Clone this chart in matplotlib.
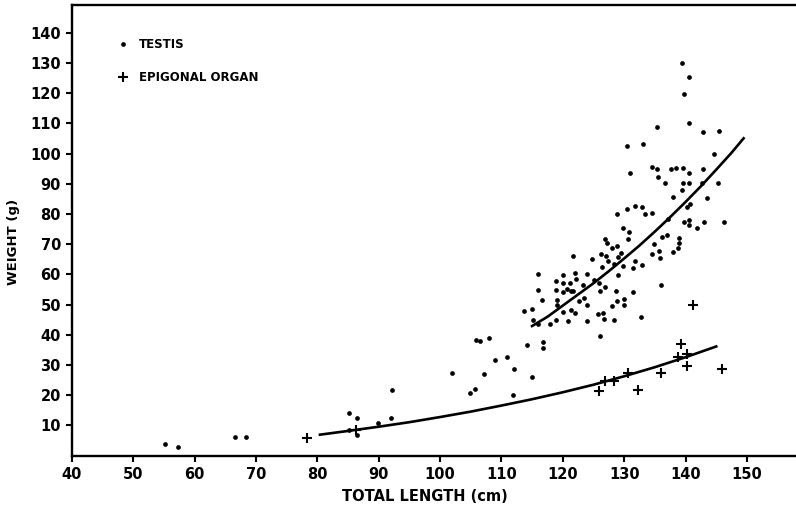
import matplotlib
matplotlib.use('Agg')
from matplotlib import pyplot as plt

# testis weight (g) against total length (cm)
testis_length = [
    55.1, 57.2, 66.6, 68.4, 85.1, 86.4, 85.1, 86.4, 89.9, 92.1, 92.0,
    101.9, 104.9, 105.7, 105.9, 106.5, 108.0, 107.2, 109.0, 110.9, 112.1,
    111.8, 115.0, 114.2, 116.7, 116.7, 113.7, 115.0, 115.2, 116.0, 116.0,
    116.0, 116.6, 117.9, 118.9, 118.9, 118.9, 119.0, 119.0, 120.0, 120.0,
    120.0, 120.1, 120.9, 120.6, 121.2, 121.3, 121.7, 121.6, 122.0, 122.2,
    121.4, 121.9, 122.6,
    139.4, 140.5, 139.7, 140.6, 135.3, 142.9, 145.4, 130.5, 133.1, 144.6,
    134.6, 135.4, 137.7, 138.5, 139.6, 142.9, 130.9, 140.5, 135.5, 136.6,
    139.6, 140.6, 142.7, 145.3, 139.4, 137.9, 143.5, 140.8, 140.3, 128.8,
    130.4, 131.7, 132.9, 133.4, 134.5, 137.1, 139.7, 140.6, 140.5, 143.0,
    141.8, 146.3, 129.8,
    130.8, 126.9, 127.2, 128.0, 128.9, 130.7, 136.1, 136.9, 139.0, 138.9,
    138.7, 137.9, 134.9, 134.6, 135.7, 135.9, 124.8, 126.2, 127.1, 127.3,
    126.4, 128.4, 129.0, 129.5, 129.8, 129.0, 131.7, 132.9, 131.5, 124.0,
    125.0, 123.3, 125.9, 126.9, 126.0, 128.7, 131.4, 136.0, 123.5, 123.9,
    128.9, 128.0, 130.0, 130.0, 125.7, 126.6, 126.7, 124.0, 128.3, 132.8,
    126.1,
]
testis_weight = [
    3.9, 2.8, 6.2, 6.3, 14.1, 12.4, 8.5, 6.9, 10.7, 21.8, 12.6,
    27.5, 20.6, 22.0, 38.2, 38.0, 38.9, 26.9, 31.7, 32.6, 28.8,
    20.0, 26.0, 36.5, 37.8, 35.8, 47.9, 48.7, 44.9, 43.6, 60.1,
    54.9, 51.5, 43.5, 44.9, 57.9, 54.9, 51.5, 49.9, 57.1, 59.8,
    54.3, 47.7, 44.7, 55.1, 57.1, 54.6, 54.6, 66.1, 60.4, 58.4,
    48.2, 47.4, 51.2,
    129.9, 125.2, 119.9, 110.2, 108.8, 107.0, 107.6, 102.5, 103.1, 100.0,
    95.5, 95.0, 95.0, 95.2, 95.2, 95.0, 93.5, 93.5, 92.4, 90.3,
    90.2, 90.4, 90.2, 90.2, 87.8, 85.5, 85.2, 83.3, 82.2, 80.1,
    81.7, 82.5, 82.2, 80.0, 80.5, 78.4, 77.4, 77.9, 76.3, 77.4,
    75.3, 77.2, 75.3,
    73.9, 71.8, 70.3, 68.7, 69.5, 71.8, 72.3, 73.2, 72.0, 70.3,
    68.7, 67.3, 70.0, 66.8, 67.8, 65.4, 65.0, 66.7, 66.2, 64.5,
    62.6, 63.4, 65.9, 67.0, 62.9, 59.7, 64.3, 63.2, 62.0, 60.2,
    58.2, 56.5, 57.1, 55.8, 54.5, 54.5, 54.1, 56.5, 52.3, 49.9,
    51.3, 49.7, 51.9, 49.9, 46.9, 47.2, 45.3, 44.7, 45.0, 45.9,
    39.7,
]

# epigonal organ weight (g) against total length (cm)
epigonal_length = [78.3, 86.3, 125.9, 126.9, 128.3, 130.6, 132.3, 136.0,
                   138.7, 139.2, 140.2, 140.2, 141.2, 145.9]
epigonal_weight = [5.9, 8.6, 21.5, 24.7, 24.8, 27.5, 21.9, 27.5,
                   32.8, 37.0, 33.7, 29.7, 50.0, 28.6]

# fitted curves
testis_fit_length = [114.8, 117.5, 120.0, 122.5, 125.0, 127.5, 130.0, 132.5,
                     135.0, 137.5, 140.0, 142.5, 145.0, 147.5, 149.6]
testis_fit_weight = [42.7, 46.0, 49.7, 53.4, 57.1, 61.1, 65.3, 69.6,
                     74.2, 79.0, 84.0, 89.2, 94.7, 100.3, 105.4]
epigonal_fit_length = [80.2, 85.0, 90.0, 95.0, 100.0, 105.0, 110.0, 115.0,
                       120.0, 125.0, 130.0, 135.0, 140.0, 145.2]
epigonal_fit_weight = [6.9, 8.2, 9.6, 11.1, 12.8, 14.6, 16.6, 18.7,
                       21.0, 23.5, 26.3, 29.3, 32.6, 36.3]

x_ticks = list(range(40, 151, 10))
y_ticks = list(range(10, 141, 10))

plt.rcParams['font.family'] = ['DejaVu Sans']
plt.rcParams['font.weight'] = 'bold'

fig = plt.figure(figsize=(7.96, 5.07), dpi=100)
ax = fig.add_axes([72 / 796, 51.3 / 507, 1 - 72 / 796, 450.7 / 507])

ax.plot(testis_length, testis_weight, 'o', color='black', markersize=3.4,
        markeredgewidth=0, label='TESTIS')
ax.plot(epigonal_length, epigonal_weight, '+', color='black', markersize=7,
        markeredgewidth=1.5, label='EPIGONAL ORGAN')
ax.plot(testis_fit_length, testis_fit_weight, '-', color='black', linewidth=1.9,
        solid_capstyle='butt')
ax.plot(epigonal_fit_length, epigonal_fit_weight, '-', color='black', linewidth=1.9,
        solid_capstyle='butt')

ax.set_xlim(40, 158.0)
ax.set_ylim(0, 149.2)
ax.set_xticks(x_ticks)
ax.set_yticks(y_ticks)

for side in ['left', 'bottom', 'top']:
    ax.spines[side].set_linewidth(1.7)
ax.spines['right'].set_visible(False)

ax.tick_params(direction='out', length=4, width=1.5, labelsize=10.5, pad=4)
for lab in ax.get_xticklabels() + ax.get_yticklabels():
    lab.set_fontweight('bold')

ax.set_xlabel('TOTAL LENGTH (cm)', fontsize=10.5, fontweight='bold')
ax.xaxis.set_label_coords(0.487, -0.074)
ax.set_ylabel('WEIGHT (g)', fontsize=9.5, fontweight='bold')
ax.yaxis.set_label_coords(-0.072, 0.475)

leg = ax.legend(loc='upper left', bbox_to_anchor=(0.062, 0.926), frameon=False,
                fontsize=8.5, handlelength=1.0, handletextpad=0.9,
                labelspacing=1.7, borderaxespad=0, borderpad=0)
for t in leg.get_texts():
    t.set_fontweight('bold')

fig.savefig('out.png', dpi=100)
